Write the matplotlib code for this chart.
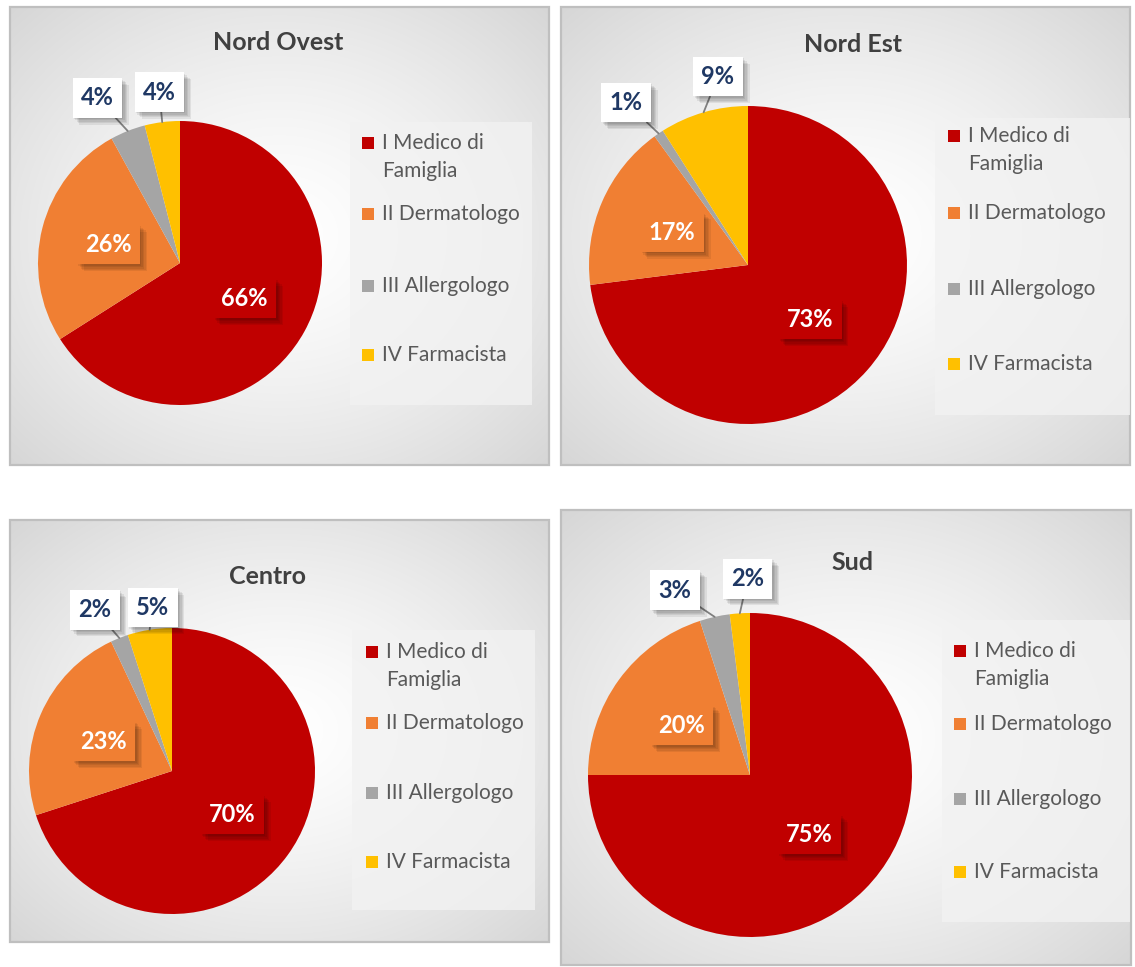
import numpy as np
import matplotlib.pyplot as plt
from matplotlib.patches import Rectangle
import matplotlib.patheffects as pe

plt.rcParams['font.family'] = ['Lato', 'DejaVu Sans']

W, H = 1135, 967

# data
categories = ["I Medico di\nFamiglia", "II Dermatologo", "III Allergologo", "IV Farmacista"]
colors = ["#C00000", "#F07F33", "#A5A5A5", "#FFC000"]
regions = ["Nord Ovest", "Nord Est", "Centro", "Sud"]
nord_ovest = [66, 26, 4, 4]
nord_est = [73, 17, 1, 9]
centro = [70, 23, 2, 5]
sud = [75, 20, 3, 2]
values = [nord_ovest, nord_est, centro, sud]

# layout in pixels (origin top-left)
panels = [
    dict(box=(10, 7, 549, 465), title=(278, 42), pie=(180, 263, 142),
         leg=(350, 122, 532, 405), sq=368, rows=(143, 214, 286, 355),
         nudge={2: (-19, -4), 3: (1, 1)}),
    dict(box=(561, 7, 1130, 465), title=(853, 45), pie=(748, 265, 159),
         leg=(935, 118, 1130, 415), sq=954, rows=(136, 213, 289, 364),
         nudge={2: (-13, -2), 3: (24, -2)}),
    dict(box=(10, 520, 549, 942), title=(268, 577), pie=(172, 771, 143),
         leg=(352, 630, 535, 910), sq=372, rows=(652, 723, 793, 862),
         nudge={2: (-13, 1), 3: (8, 9)}),
    dict(box=(561, 510, 1131, 965), title=(852, 562), pie=(750, 775, 162),
         leg=(942, 620, 1130, 922), sq=960, rows=(651, 724, 799, 872),
         nudge={2: (-32, 8), 3: (10, 1)}),
]

fig = plt.figure(figsize=(W / 100, H / 100), dpi=100)
ax = fig.add_axes([0, 0, 1, 1])


def Y(y):
    return H - y


# soft drop shadow for the label boxes
shadow = [pe.withSimplePatchShadow(offset=(k, -k), shadow_rgbFace='black', alpha=0.07)
          for k in (1, 2, 3, 4, 5)] + [pe.Normal()]

for name, vals, p in zip(regions, values, panels):
    x0, y0, x1, y1 = p['box']
    # radial gradient background
    gx, gy = np.meshgrid(np.linspace(-1, 1, 200), np.linspace(-1, 1, 200))
    d = np.sqrt(gx ** 2 + gy ** 2) / np.sqrt(2)
    g = 1 - 0.16 * d ** 1.4
    ax.imshow(np.dstack([g, g, g]), extent=(x0, x1, Y(y1), Y(y0)), zorder=0,
              aspect='auto', interpolation='bilinear')
    ax.add_patch(Rectangle((x0, Y(y1)), x1 - x0, y1 - y0, fill=False,
                           ec='#BFBFBF', lw=1.6, zorder=1))
    ax.text(p['title'][0], Y(p['title'][1]), name, ha='center', va='center',
            fontsize=18, fontweight='bold', color='#404040', zorder=5)

    cx, cy, r = p['pie']
    wedges, _ = ax.pie(vals, colors=colors, startangle=90, counterclock=False,
                       center=(cx, Y(cy)), radius=r,
                       wedgeprops=dict(linewidth=0, zorder=2))
    for i, (w, v) in enumerate(zip(wedges, vals)):
        ang = np.deg2rad((w.theta1 + w.theta2) / 2)
        txt = f"{v:.0f}%"
        if v >= 10:
            lx = cx + 0.52 * r * np.cos(ang)
            ly = Y(cy) + 0.52 * r * np.sin(ang)
            t = ax.text(lx, ly, txt, ha='center', va='center', fontsize=17,
                        fontweight='bold', color='white', zorder=6,
                        bbox=dict(boxstyle='square,pad=0.35', fc=colors[i], ec='none'))
        else:
            ndx, ndy = p['nudge'].get(i, (0, 0))
            lx = cx + 1.22 * r * np.cos(ang) + ndx
            ly = Y(cy) + 1.22 * r * np.sin(ang) - ndy
            ex = cx + r * np.cos(ang)
            ey = Y(cy) + r * np.sin(ang)
            t = ax.annotate(txt, xy=(ex, ey), xytext=(lx, ly), ha='center', va='center',
                            fontsize=17, fontweight='bold', color='#1F3864', zorder=6,
                            bbox=dict(boxstyle='square,pad=0.35', fc='white', ec='none'),
                            arrowprops=dict(arrowstyle='-', color='#7F7F7F', lw=1.3,
                                            shrinkA=0, shrinkB=0))
        t.get_bbox_patch().set_path_effects(shadow)

    # legend
    lx0, ly0, lx1, ly1 = p['leg']
    ax.add_patch(Rectangle((lx0, Y(ly1)), lx1 - lx0, ly1 - ly0, fc='#F2F2F2',
                           ec='none', alpha=0.8, zorder=1.5))
    for c, lab, ry in zip(colors, categories, p['rows']):
        ax.add_patch(Rectangle((p['sq'] - 6, Y(ry) - 6), 12, 12, fc=c, ec='none', zorder=3))
        for k, line in enumerate(lab.split('\n')):
            ax.text(p['sq'] + 14, Y(ry + 28 * k), line, ha='left', va='center',
                    fontsize=15, color='#595959', zorder=3)

ax.set_xlim(0, W)
ax.set_ylim(0, H)
ax.set_aspect('equal')
ax.axis('off')
fig.savefig('out.png', dpi=100, facecolor='white')
